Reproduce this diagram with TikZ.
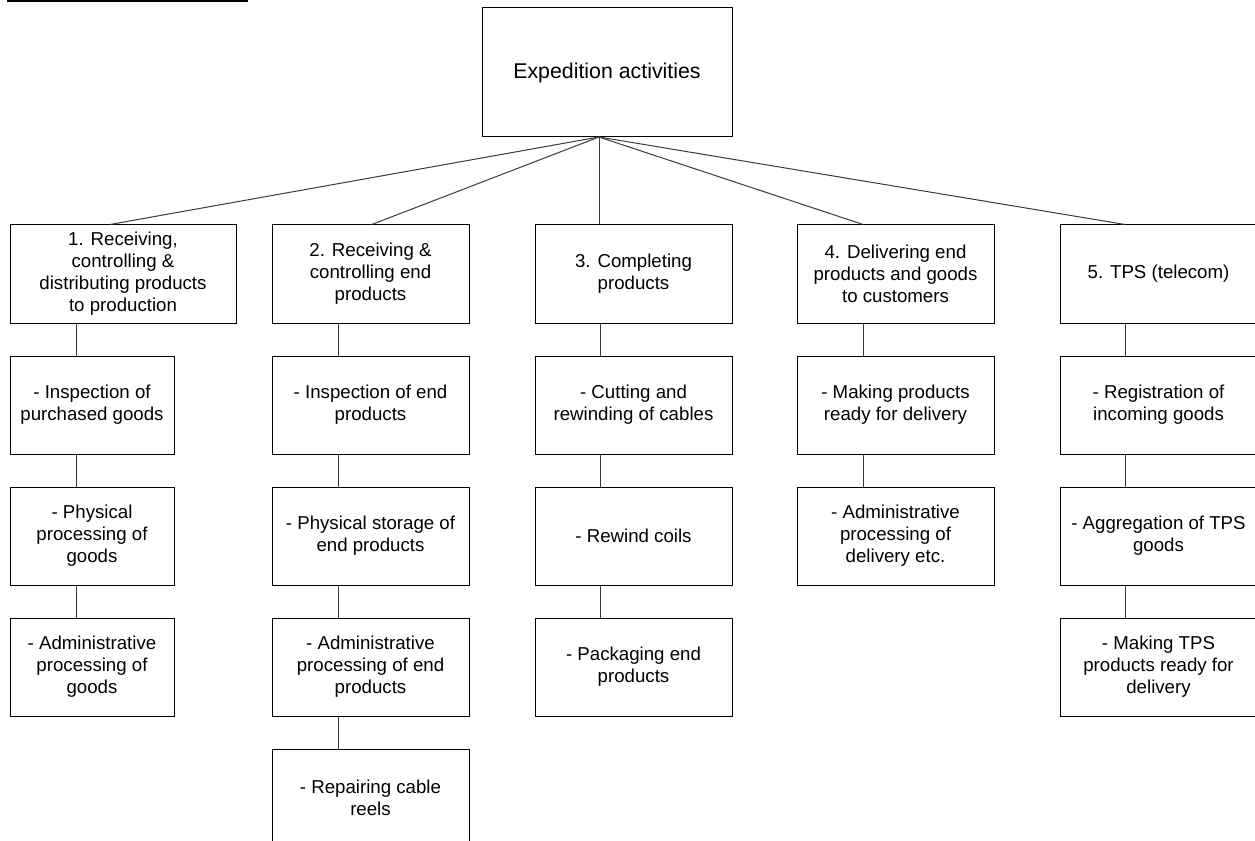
\documentclass[tikz,border=0pt]{standalone}
\usepackage{fontspec}
\setmainfont{Liberation Sans}
\usetikzlibrary{positioning, calc}
\definecolor{ink}{HTML}{000000}
\definecolor{wire}{HTML}{3A3A3A}
\tikzset{
  topbox/.style={draw=ink, line width=0.75pt, align=center, inner sep=0pt,
                 minimum width=187.5pt, minimum height=96.75pt, font=\fontsize{16}{19}\selectfont},
  box/.style={draw=ink, line width=0.75pt, align=center, inner sep=0pt,
              minimum width=147.75pt, minimum height=73.5pt, font=\fontsize{14}{16.5}\selectfont},
  wbox/.style={box, minimum width=169.5pt},
  nbox/.style={box, minimum width=123pt},
  ln/.style={draw=wire, line width=0.75pt},
}
\begin{document}
\begin{tikzpicture}[x=0.75pt, y=-0.75pt]
    \useasboundingbox (0,0) rectangle (1255,841);
    \draw[line width=1.5pt] (7,1.5) -- (248,1.5);
    \node[topbox] (top) at (607,72.5) {Expedition activities};
    % column 1
    \node[wbox] (c1a) at (123,274) {1. Receiving,\\controlling \&\\distributing products\\to production};
    \node[nbox] (c1b) at (92,405) {- Inspection of\\purchased goods};
    \node[nbox] (c1c) at (92,536) {- Physical\\processing of\\goods};
    \node[nbox] (c1d) at (92,667) {- Administrative\\processing of\\goods};
    % column 2
    \node[box] (c2a) at (370.5,274) {2. Receiving \&\\controlling end\\products};
    \node[box] (c2b) at (370.5,405) {- Inspection of end\\products};
    \node[box] (c2c) at (370.5,536) {- Physical storage of\\end products};
    \node[box] (c2d) at (370.5,667) {- Administrative\\processing of end\\products};
    \node[box] (c2e) at (370.5,798) {- Repairing cable\\reels};
    % column 3
    \node[box] (c3a) at (633.5,274) {3. Completing\\products};
    \node[box] (c3b) at (633.5,405) {- Cutting and\\rewinding of cables};
    \node[box] (c3c) at (633.5,536) {- Rewind coils};
    \node[box] (c3d) at (633.5,667) {- Packaging end\\products};
    % column 4
    \node[box] (c4a) at (895.5,274) {4. Delivering end\\products and goods\\to customers};
    \node[box] (c4b) at (895.5,405) {- Making products\\ready for delivery};
    \node[box] (c4c) at (895.5,536) {- Administrative\\processing of\\delivery etc.};
    % column 5
    \node[box] (c5a) at (1158.5,274) {5. TPS (telecom)};
    \node[box] (c5b) at (1158.5,405) {- Registration of\\incoming goods};
    \node[box] (c5c) at (1158.5,536) {- Aggregation of TPS\\goods};
    \node[box] (c5d) at (1158.5,667) {- Making TPS\\products ready for\\delivery};

    \coordinate (hub) at (599,137);
    \foreach \i/\x in {1/76,2/338,3/600,4/863,5/1125} \coordinate (x\i) at (\x,0);
    \draw[ln] (hub) -- ([xshift=-9.75pt]c1a.north); \draw[ln] (hub) -- ([xshift=1pt]c2a.north);
    \draw[ln] (hub) -- (c3a.north -| hub); \draw[ln] (hub) -- (c4a.north -| x4); \draw[ln] (hub) -- (c5a.north -| x5);
    \foreach \a/\b/\c in {c1a/c1b/x1, c1b/c1c/x1, c1c/c1d/x1,
                          c2a/c2b/x2, c2b/c2c/x2, c2c/c2d/x2, c2d/c2e/x2,
                          c3a/c3b/x3, c3b/c3c/x3, c3c/c3d/x3,
                          c4a/c4b/x4, c4b/c4c/x4,
                          c5a/c5b/x5, c5b/c5c/x5, c5c/c5d/x5}
      \draw[ln] (\a.south -| \c) -- (\b.north -| \c);
  \end{tikzpicture}
\end{document}
